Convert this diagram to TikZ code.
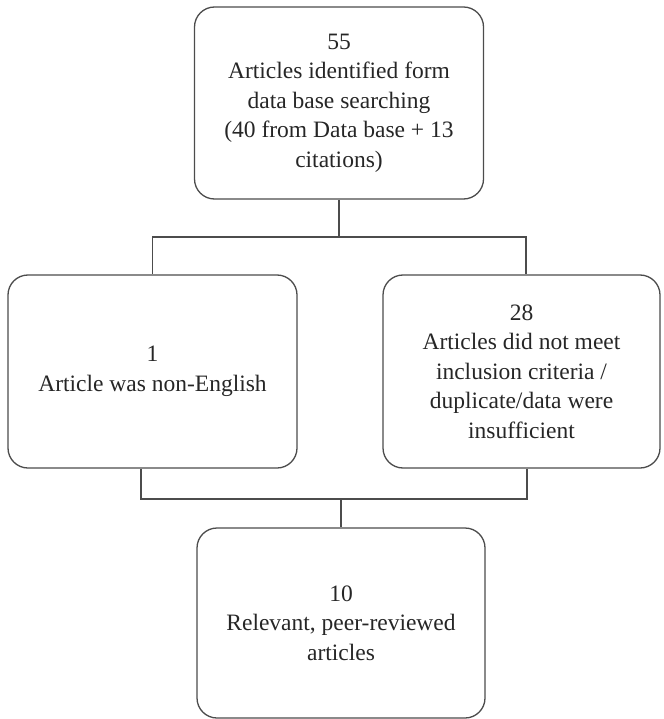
\documentclass[tikz,border=0pt]{standalone}
\usepackage{fontspec}
\setmainfont{Liberation Serif}
\usetikzlibrary{positioning}
\definecolor{lgray}{rgb}{0.3, 0.3, 0.3}
\tikzset{stage/.style = {draw=lgray, line width=1.3pt, rounded corners=20pt,
                         align=center, inner sep=0pt, text=black!85,
                         font=\fontsize{23.5}{29.5}\selectfont},
         link/.style = {draw=lgray, line width=1.3pt}}

\begin{document}
\begin{tikzpicture}[x=1pt, y=-1pt]
      \useasboundingbox (0, 0) rectangle (663, 719);

      \node [stage, minimum width=289pt, minimum height=192pt] (found) at (339, 103)
            {55\\Articles identified form\\data base searching\\(40 from Data base + 13\\citations)};
      \node [stage, minimum width=289pt, minimum height=193pt] (nonenglish) at (152.5, 371.5)
            {1\\Article was non-English};
      \node [stage, minimum width=277pt, minimum height=193pt] (excluded) at (521.5, 371.5)
            {28\\Articles did not meet\\inclusion criteria /\\duplicate/data were\\insufficient};
      \node [stage, minimum width=288pt, minimum height=190pt] (included) at (341, 623)
            {10\\Relevant, peer-reviewed\\articles};

      % split and join
      \coordinate (split) at (339, 237);
      \coordinate (join) at (341, 499);
      \draw [link] (found.south) -- (split);
      \draw [link] (split) -| (nonenglish.north);
      \draw [link] (split) -| ([xshift=4.5pt]excluded.north);
      \draw [link] ([xshift=-11.5pt]nonenglish.south) |- (join);
      \draw [link] ([xshift=5.5pt]excluded.south) |- (join);
      \draw [link] (join) -- (included.north);
\end{tikzpicture}
\end{document}
